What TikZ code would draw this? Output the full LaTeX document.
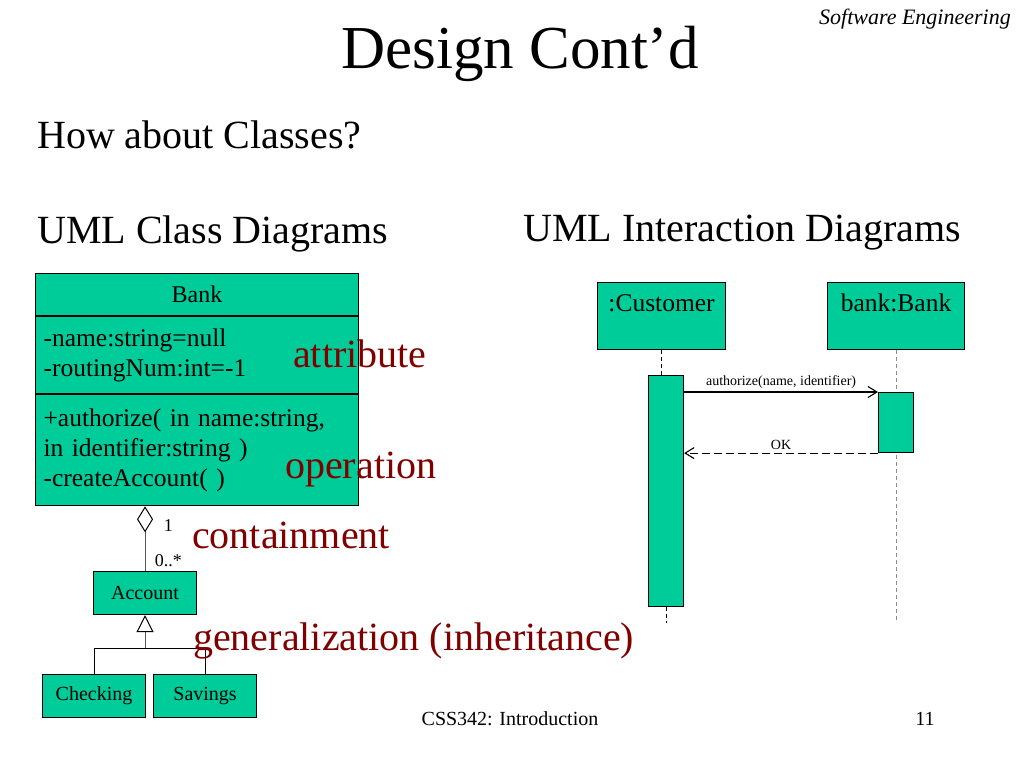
\documentclass[tikz,border=0pt]{standalone}
\usepackage{fontspec}
\setmainfont{Liberation Serif}
\usetikzlibrary{arrows.meta,positioning}
\definecolor{umlgreen}{RGB}{0,204,153}
\definecolor{notered}{RGB}{128,0,0}
\newcommand{\fsz}[2]{\fontsize{#1}{#2}\selectfont}
\begin{document}
\begin{tikzpicture}[x=1pt,y=-1pt,font={\fsz{25.5}{30}},
	cls/.style={draw,line width=1.1pt,fill=umlgreen,anchor=north west,inner sep=0pt},
	subcls/.style={cls,minimum width=103,minimum height=43,font={\fsz{20}{24}}},
	obj/.style={cls,minimum width=#1,text height=29pt,text depth=38pt},
	slide/.style={anchor=base west,inner sep=0pt,font={\fsz{40}{48}}},
	note/.style={slide,text=notered},
	lifeline/.style={dash pattern=on 4pt off 3pt,line width=0.9pt},
	msg/.style={line width=1.1pt,-{Straight Barb[length=9pt,width=11pt]}},
	assoc/.style={draw=black!65,line width=1pt,-{Diamond[open,length=26pt,width=16pt,color=black]}},
	inherit/.style={draw=black!65,line width=1pt,-{Triangle[open,length=17pt,width=17pt,color=black]}}]
	\useasboundingbox (0,0) rectangle (1024,768);
	\node[anchor=base,inner sep=0pt,font={\fsz{61}{70}}] (title) at (520,68) {Design Cont’d};
	\node[anchor=base east,inner sep=0pt,font={\fsz{22}{26}\itshape}] (course) at (1011,25) {Software Engineering};
	\node[slide] (question) at (37,148) {How about Classes?};
	\node[slide] (classhead) at (37,243) {UML Class Diagrams};
	\node[slide] (interhead) at (523,241) {UML Interaction Diagrams};
	\node[cls,minimum width=323,minimum height=42,font={\fsz{24}{28}}] (bank) at (35,273) {Bank};
	\node[cls,minimum height=77,text width=307,inner xsep=8,align=left] (bankattr) at (bank.south west)
		{-name:string=null\\-routingNum:int=-1};
	\node[cls,minimum height=111,text width=307,inner xsep=8,align=left] (bankops) at (bankattr.south west)
		{+authorize( in name:string,\\in identifier:string )\\-createAccount( )};
	\node[subcls] (account) at (93,571) {Account};
	\node[subcls] (checking) at (42,674) {Checking};
	\node[subcls] (savings) at (153,674) {Savings};
	\draw[assoc] (account.north) -- node[pos=0.16,right=6pt,font={\fsz{18}{20}}] (many) {0..*}
		node[pos=0.7,right=15pt,font={\fsz{18}{20}}] (one) {1} (account.north |- bankops.south);
	\coordinate (gen) at (account.south |- 0,648);
	\draw[inherit] (gen) -- (account.south);
	\draw[line width=1pt] (checking.north) |- (gen) -| (savings.north);
	\foreach \n/\x/\y/\t in {attrnote/293/367/attribute,opnote/285/478/operation,
		contnote/192/548/containment,gennote/193/650/generalization (inheritance)}
		\node[note] (\n) at (\x,\y) {\t};
	\node[obj=128] (cust) at (597,282) {:Customer};
	\node[obj=137] (bankobj) at (827,282) {bank:Bank};
	\draw[lifeline,draw=black!45] (bankobj.south) -- +(0,273);
	\node[cls,minimum width=35,minimum height=231] (custact) at (648,375) {};
	\node[cls,minimum width=35,minimum height=60] (bankact) at (878,392) {};
	\draw[lifeline] (cust.south) -- (cust.south |- custact.north);
	\draw[lifeline] (custact.south) -- +(0,16);
	\draw[msg] (custact.east |- bankact.north) -- node[above,font={\fsz{14}{16}}] (authlbl) {authorize(name, identifier)} (bankact.north west);
	\draw[msg,dash pattern=on 8pt off 4pt] (bankact.south west) -- node[above,font={\fsz{14}{16}}] (oklbl) {OK} (custact.east |- bankact.south);
	\node[anchor=base,inner sep=0pt,font={\fsz{20}{24}}] (footer) at (510,725) {CSS342: Introduction};
	\node[anchor=base,inner sep=0pt,font={\fsz{20}{24}}] (pagenum) at (925,725) {11};
\end{tikzpicture}
\end{document}
